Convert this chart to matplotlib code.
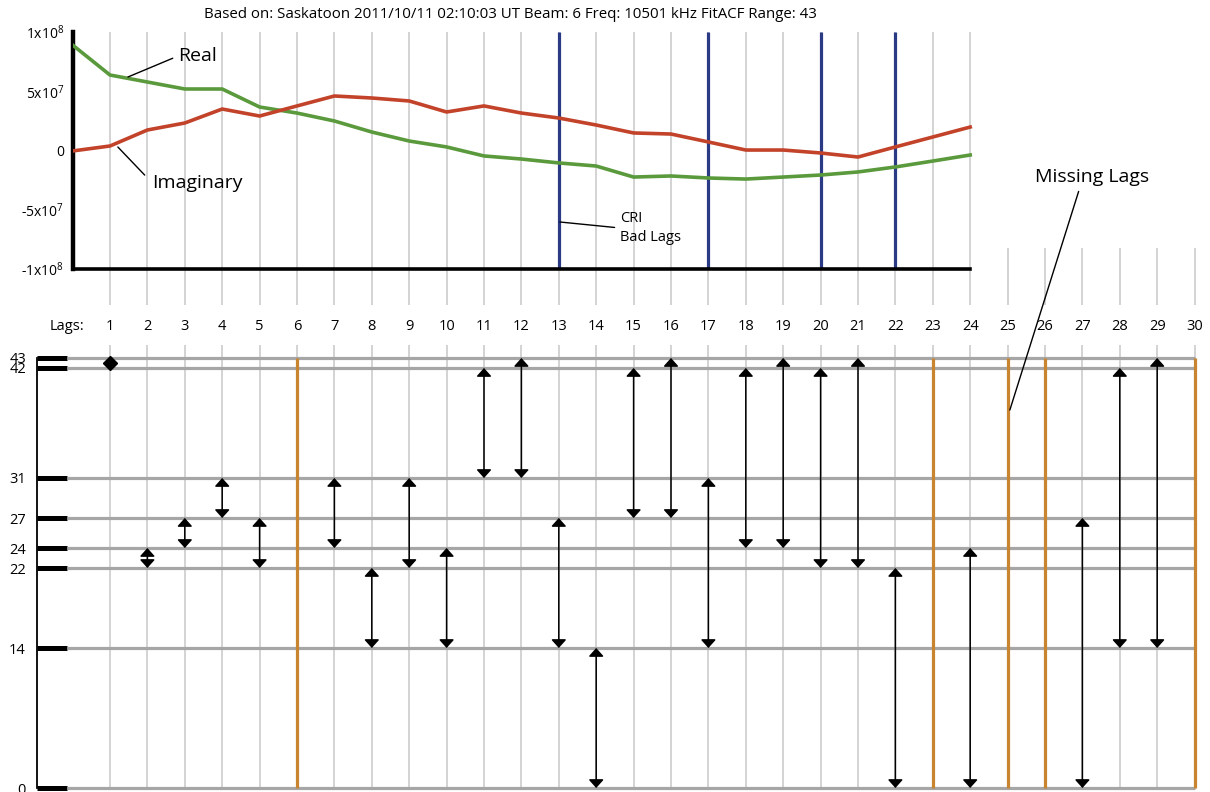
import numpy as np
import matplotlib.pyplot as plt

plt.rcParams['font.family'] = ['Open Sans', 'DejaVu Sans']
plt.rcParams['mathtext.default'] = 'regular'

title = 'Based on: Saskatoon 2011/10/11 02:10:03 UT Beam: 6 Freq: 10501 kHz FitACF Range: 43'

# ACF, units of 1e7, lags 0..24
acf_lags = np.arange(25)
acf_real = [8.9, 6.37, 5.78, 5.19, 5.19, 3.67, 3.16, 2.49, 1.56, 0.80, 0.30, -0.46, -0.72,
            -1.05, -1.31, -2.24, -2.15, -2.32, -2.41, -2.24, -2.07, -1.81, -1.39, -0.89, -0.38]
acf_imag = [-0.04, 0.38, 1.73, 2.32, 3.50, 2.91, 3.76, 4.60, 4.43, 4.18, 3.25, 3.76, 3.16,
            2.74, 2.15, 1.48, 1.39, 0.72, 0.04, 0.04, -0.21, -0.55, 0.30, 1.14, 1.98]
cri_bad_lags = [13, 17, 20, 22]
acf_ticks = [-1e8, -5e7, 0, 5e7, 1e8]
acf_ticklabels = ['-1x10$^8$', '-5x10$^7$', '0', '5x10$^7$', '1x10$^8$']

# pulse table
all_lags = np.arange(1, 31)
pulses = [0, 14, 22, 24, 27, 31, 42, 43]
missing_lags = [6, 23, 25, 26, 30]
lag_pairs = {1: (42, 43), 2: (22, 24), 3: (24, 27), 4: (27, 31), 5: (22, 27),
             7: (24, 31), 8: (14, 22), 9: (22, 31), 10: (14, 24), 11: (31, 42),
             12: (31, 43), 13: (14, 27), 14: (0, 14), 15: (27, 42), 16: (27, 43),
             17: (14, 31), 18: (24, 42), 19: (24, 43), 20: (22, 42), 21: (22, 43),
             22: (0, 22), 24: (0, 24), 27: (0, 27), 28: (14, 42), 29: (14, 43)}

green = '#5a9a3c'
red = '#c2432a'
navy = '#2b3a85'
orange = '#c8842e'
grid_c = '#cccccc'
pulse_c = '#a6a6a6'

W, H = 1210, 792
px0, dpx = 72.6, 37.4        # pixel column of lag 0, pixels per lag
xmax = 30.3

fig = plt.figure(figsize=(W / 100, H / 100), dpi=100)
fig.text(510 / W, 1 - 15 / H, title, ha='center', va='center', fontsize=10.8)

# ---- ACF panel ----
zero_row, vpp = 150.5, 1e8 / 118.5     # pixel row of zero, value per pixel
def row_to_val(r):
    return (zero_row - r) * vpp

t0, t1 = 20, 310
ax = fig.add_axes([px0 / W, 1 - t1 / H, xmax * dpx / W, (t1 - t0) / H])
ax.set_xlim(0, xmax)
ax.set_ylim(row_to_val(t1), row_to_val(t0))
ax.patch.set_alpha(0)

ax.vlines(all_lags[all_lags <= 24], row_to_val(305), 1e8, color=grid_c, lw=1.2, zorder=1)
ax.vlines(all_lags[all_lags > 24], row_to_val(305), row_to_val(248), color=grid_c, lw=1.2, zorder=1)
ax.vlines(cri_bad_lags, -1e8, 1e8, color=navy, lw=2.3, zorder=2)

ax.plot(acf_lags, np.array(acf_real) * 1e7, color=green, lw=2.6, zorder=3)
ax.plot(acf_lags, np.array(acf_imag) * 1e7, color=red, lw=2.6, zorder=3)

for s in ['top', 'right']:
    ax.spines[s].set_visible(False)
ax.spines['left'].set_bounds(-1e8, 1e8)
ax.spines['left'].set_linewidth(3.2)
ax.spines['bottom'].set_position(('data', -1e8))
ax.spines['bottom'].set_bounds(0, 24)
ax.spines['bottom'].set_linewidth(2.6)
ax.set_xticks([])
ax.set_yticks(acf_ticks, acf_ticklabels)
ax.tick_params(axis='y', length=0, pad=6, labelsize=10)

line = dict(arrowstyle='-', lw=1, color='black', relpos=(0, 0.5), shrinkB=0)
ax.annotate('Real', xy=(1.48, row_to_val(77)), xytext=(2.82, row_to_val(56)),
            ha='left', va='center', fontsize=14, arrowprops=dict(line, shrinkA=2))
ax.annotate('Imaginary', xy=(1.21, row_to_val(147)), xytext=(2.13, row_to_val(183)),
            ha='left', va='center', fontsize=14, arrowprops=dict(line, shrinkA=5))
ax.annotate('CRI\nBad Lags', xy=(13.03, row_to_val(222)), xytext=(14.64, row_to_val(228)),
            ha='left', va='center', fontsize=10.5, linespacing=1.3,
            arrowprops=dict(line, shrinkA=2))

# ---- pulse / lag panel ----
b0, b1 = 345, 792
base_row, ppp = 788, 10.0              # pixel row of pulse 0, pixels per pulse unit
xmin_b = -0.952
bx = fig.add_axes([(px0 + xmin_b * dpx) / W, 0, (xmax - xmin_b) * dpx / W, (b1 - b0) / H])
bx.set_xlim(xmin_b, xmax)
bx.set_ylim((base_row - b1) / ppp, (base_row - b0) / ppp)
bx.patch.set_alpha(0)

bar_px = 30
bx.vlines(all_lags, 0, (base_row - b0) / ppp, color=grid_c, lw=1.2, zorder=1)
bx.hlines(pulses, xmin_b + bar_px / dpx, 30, color=pulse_c, lw=2.3, zorder=2)
bx.vlines(missing_lags, 0, max(pulses), color=orange, lw=2.3, zorder=3)

for lag, (lo, hi) in lag_pairs.items():
    if hi - lo < 2:
        bx.plot(lag, (lo + hi) / 2, marker='D', ms=7, color='black', zorder=4)
    else:
        bx.annotate('', xy=(lag, hi), xytext=(lag, lo),
                    arrowprops=dict(arrowstyle='<|-|>,head_length=0.5,head_width=0.45',
                                    mutation_scale=10, lw=1.1, color='black',
                                    shrinkA=0, shrinkB=0), zorder=4)

for s in ['top', 'right', 'bottom']:
    bx.spines[s].set_visible(False)
bx.spines['left'].set_bounds(0, max(pulses))
bx.spines['left'].set_linewidth(1.3)
bx.set_yticks(pulses)
bx.tick_params(axis='y', direction='in', length=bar_px * 0.72, width=3.6, pad=8, labelsize=10.5)
bx.xaxis.tick_top()
bx.set_xticks([-0.14] + list(all_lags), ['Lags:'] + [str(l) for l in all_lags])
bx.tick_params(axis='x', length=0, pad=8, labelsize=10.5)

bx.annotate('Missing Lags', xy=(25.06, 37.8), xytext=(27.25, (base_row - 177) / ppp),
            ha='center', va='center', fontsize=14, annotation_clip=False,
            arrowprops=dict(arrowstyle='-', lw=1, color='black', relpos=(0.4, 0),
                            shrinkA=2, shrinkB=0))

fig.savefig('out.png', dpi=100)
